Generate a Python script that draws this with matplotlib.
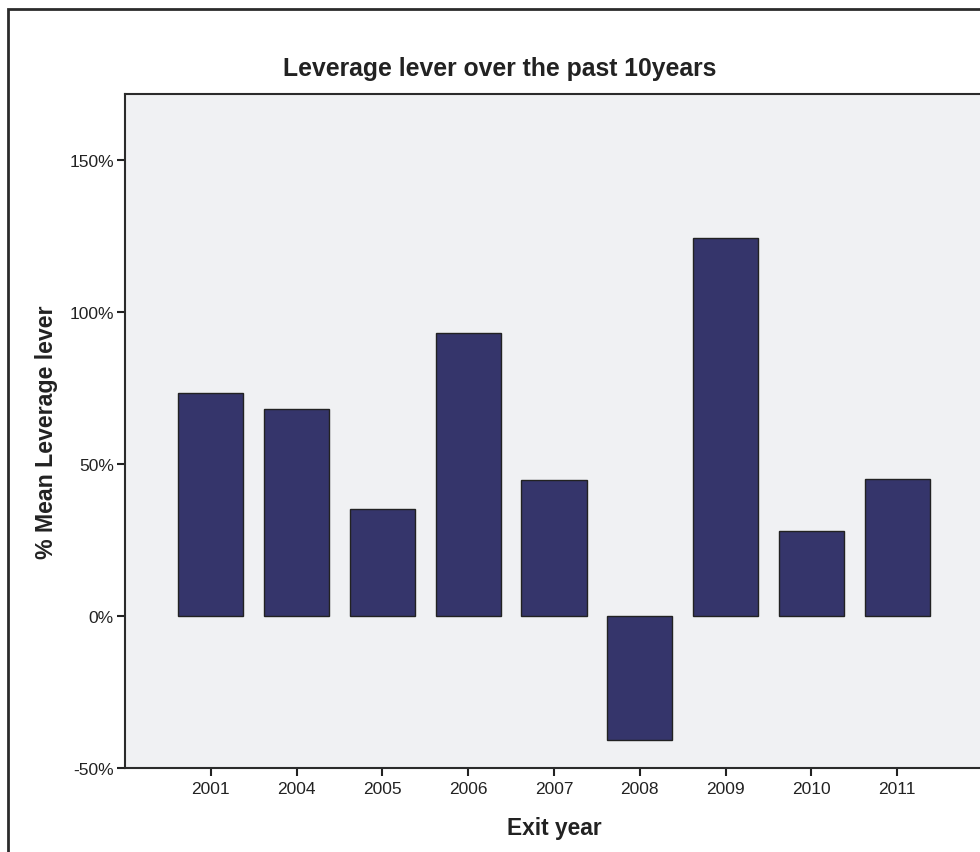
import numpy as np
import matplotlib.pyplot as plt
from matplotlib.patches import Rectangle

plt.rcParams['font.family'] = ['Liberation Sans', 'DejaVu Sans']

years = ['2001', '2004', '2005', '2006', '2007', '2008', '2009', '2010', '2011']
mean_leverage = [73.3, 68.0, 35.3, 93.0, 44.6, -40.9, 124.4, 28.0, 45.2]

fig = plt.figure(figsize=(9.8, 8.53), dpi=100)

# outer frame of the chart
fig.patches.append(Rectangle((8 / 980, -0.05), 1.1, 1 - 10 / 853 + 0.05,
                             transform=fig.transFigure, fill=False,
                             edgecolor='#2b2b2b', linewidth=2))

ax = fig.add_axes([125 / 980, 1 - 769 / 853, (983 - 125) / 980, (769 - 95) / 853])
ax.set_facecolor('#f0f1f3')

x = np.arange(len(years))
ax.bar(x, mean_leverage, width=0.76, color='#35356b', edgecolor='#222222', linewidth=1)

ax.set_xlim(-1, len(years))
ax.set_ylim(-50, 171.7)
ax.set_xticks(x)
ax.set_xticklabels(years)
ax.set_yticks([-50, 0, 50, 100, 150])
ax.set_yticklabels(['-50%', '0%', '50%', '100%', '150%'])
ax.tick_params(direction='out', length=6, width=1.5, labelsize=12.5, colors='#222222')
ax.tick_params(axis='y', pad=2)

for s in ax.spines.values():
    s.set_color('#2b2b2b')
    s.set_linewidth(1.5)

ax.set_xlabel('Exit year', fontsize=16.4, fontweight='bold', labelpad=14, color='#222222')
ax.set_ylabel('% Mean Leverage lever', fontsize=16.7, fontweight='bold', labelpad=8, color='#222222')
fig.text(500 / 980, 1 - 69 / 853, 'Leverage lever over the past 10years',
         ha='center', va='center', fontsize=17.8, fontweight='bold', color='#222222')

plt.savefig('out.png', dpi=100)
